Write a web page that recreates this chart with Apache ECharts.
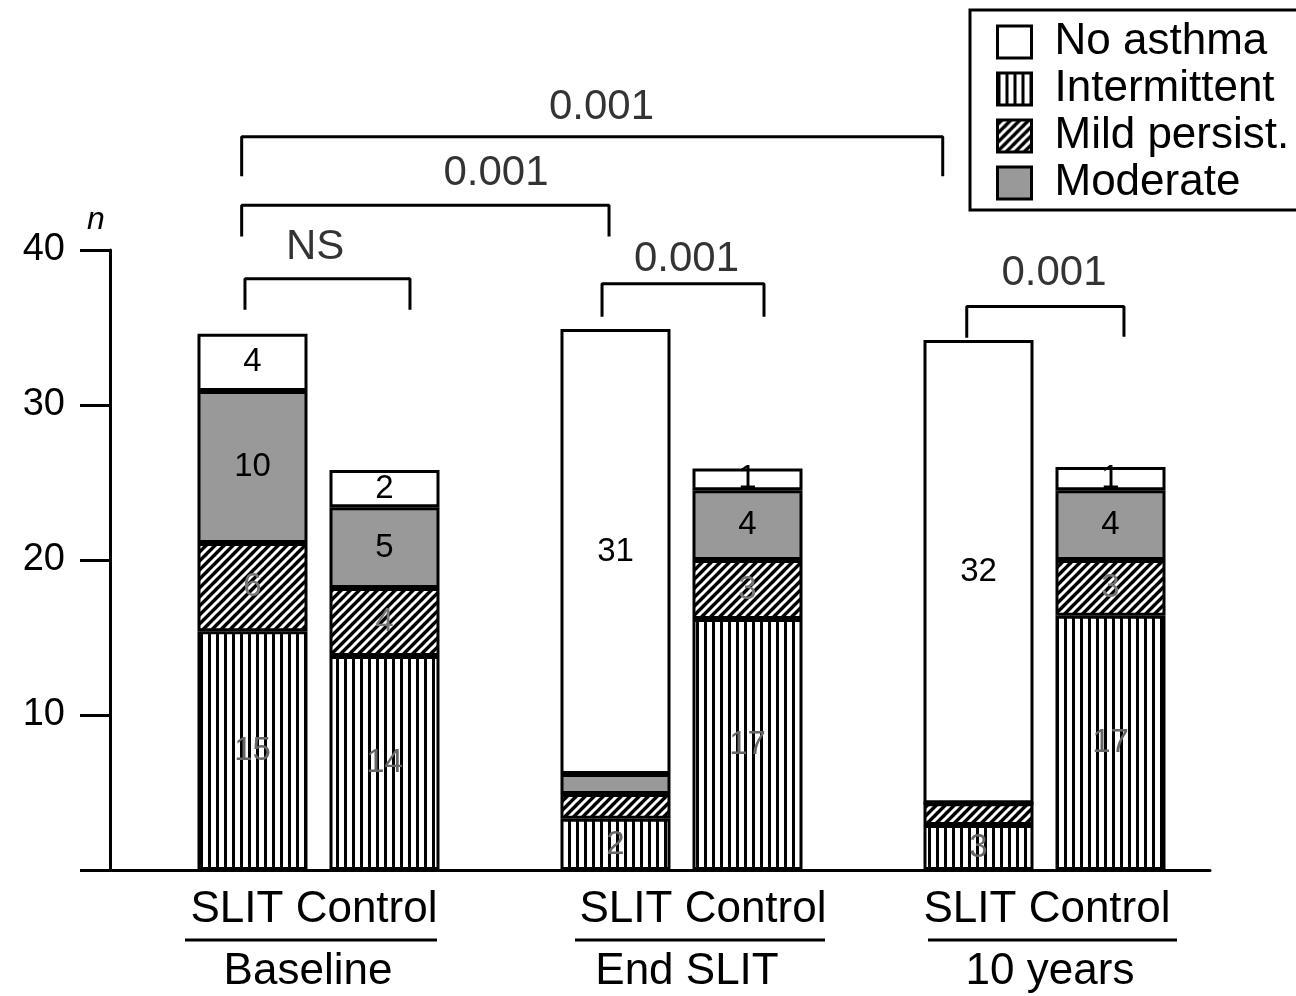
<!DOCTYPE html>
<html><head><meta charset="utf-8">
<script src="https://cdn.jsdelivr.net/npm/echarts@6/dist/echarts.min.js"></script>
<style>html,body{margin:0;padding:0;background:#fff}#c{width:1296px;height:996px}</style>
</head><body><div id="c"></div>
<script>
// ---------- data ----------
const groups = ['Baseline', 'End SLIT', '10 years'];
const arms = ['SLIT', 'Control'];
const legendOrder = ['No asthma', 'Intermittent', 'Mild persist.', 'Moderate'];
// segment heights (n) per bar: Baseline SLIT, Baseline Control, End SLIT, End Control, 10y SLIT, 10y Control
const intermittent = [15.4, 13.8, 3.3, 16.2, 2.9, 16.4];
const mildPersist  = [5.7, 4.4, 1.6, 3.8, 1.4, 3.6];
const moderate     = [9.8, 5.2, 1.3, 4.5, 0, 4.5];
const noAsthma     = [3.7, 2.4, 28.7, 1.4, 29.9, 1.5];
const intermittentLabels = ['15', '14', '2', '17', '3', '17'];
const mildLabels         = ['6', '4', '', '3', '', '3'];
const moderateLabels     = ['10', '5', '', '4', '', '4'];
const noAsthmaLabels     = ['4', '2', '31', '1', '32', '1'];
const pTexts = ['0.001', '0.001', 'NS', '0.001', '0.001'];

// ---------- layout ----------
const FONT = '"Liberation Sans", Arial, Helvetica, sans-serif';
const GROUP_STEP = 2.75;
const BAR_W = 110, AXIS_LEN = 1100;
// wanted visible extent of the x axis (in bar-position units)
const X_MIN = -1.0795, X_MAX = 7.2538;
// ECharts widens a time/value base axis by the bar width; pre-shrink so the final extent is as wanted
const xCenter = (X_MIN + X_MAX) / 2;
const xHalf = (X_MAX - X_MIN) * (1 - BAR_W / AXIS_LEN) / 2;
const T = v => v * 1000;
const barPos = [];
groups.forEach((g, gi) => arms.forEach((a, si) => barPos.push(GROUP_STEP * gi + si)));

// bracket geometry in axis units: x1, x2, bar height h, left leg end, right leg end, text x, text y
const brackets = [
  { x1: -0.082, x2: 5.229, h: 47.31, l: 44.76, r: 44.76, tx: 2.644, ty: 49.2 },
  { x1: -0.082, x2: 2.701, h: 42.89, l: 40.87, r: 40.87, tx: 1.845, ty: 44.94 },
  { x1: -0.057, x2: 1.193, h: 38.15, l: 36.15, r: 36.15, tx: 0.474, ty: 40.16 },
  { x1: 2.648, x2: 3.875, h: 37.83, l: 35.70, r: 35.70, tx: 3.288, ty: 39.38 },
  { x1: 5.411, x2: 6.602, h: 36.36, l: 34.34, r: 34.41, tx: 6.072, ty: 38.48 }
];

// ---------- patterns ----------
function stripes() {
  const c = document.createElement('canvas'); c.width = 8; c.height = 8;
  const g = c.getContext('2d');
  g.fillStyle = '#fff'; g.fillRect(0, 0, 8, 8);
  g.fillStyle = '#000'; g.fillRect(0, 0, 3, 8);
  return c;
}
function hatch() {
  const s = 9;
  const c = document.createElement('canvas'); c.width = s; c.height = s;
  const g = c.getContext('2d');
  g.fillStyle = '#000'; g.fillRect(0, 0, s, s);
  g.strokeStyle = '#fff'; g.lineWidth = 3;
  g.beginPath();
  g.moveTo(-s, s); g.lineTo(s, -s);
  g.moveTo(0, s); g.lineTo(s, 0);
  g.moveTo(0, 2 * s); g.lineTo(2 * s, 0);
  g.stroke();
  return c;
}
const stripePat = { image: stripes(), repeat: 'repeat' };
const hatchPat = { image: hatch(), repeat: 'repeat' };

function barSeries(name, values, labels, fill, labelColor) {
  return {
    name, type: 'bar', stack: 'n', barWidth: BAR_W,
    data: values.map((v, i) => [T(barPos[i]), v]),
    itemStyle: { color: fill, borderColor: '#000', borderWidth: 3 },
    label: {
      show: true, position: 'inside', fontFamily: FONT, fontSize: 33, color: labelColor,
      formatter: p => labels[p.dataIndex]
    },
    emphasis: { disabled: true }, animation: false
  };
}

const series = [
  barSeries('Intermittent', intermittent, intermittentLabels, stripePat, '#666'),
  barSeries('Mild persist.', mildPersist, mildLabels, hatchPat, '#777'),
  barSeries('Moderate', moderate, moderateLabels, '#999999', '#000'),
  barSeries('No asthma', noAsthma, noAsthmaLabels, '#ffffff', '#000')
];
brackets.forEach(b => {
  series.push({
    type: 'line', silent: true, clip: false, symbol: 'none', animation: false, z: 5,
    lineStyle: { color: '#000', width: 3 },
    data: [[T(b.x1), b.l], [T(b.x1), b.h], [T(b.x2), b.h], [T(b.x2), b.r]]
  });
});
series.push({
  type: 'scatter', silent: true, clip: false, symbolSize: 0, animation: false, z: 6,
  data: brackets.map((b, i) => [T(b.tx), b.ty, pTexts[i]]),
  label: { show: true, position: 'inside', fontFamily: FONT, fontSize: 42, color: '#000',
    formatter: p => p.value[2] }
});

const groupTextX = [314, 703, 1047];
const underline = [[185, 437], [575, 825], [928, 1177]];
const groupNameX = [308, 687, 1050];
const graphic = [];
groups.forEach((g, i) => {
  graphic.push({ type: 'text', x: groupTextX[i], y: 910, style: { text: arms.join(' '), font: '44px ' + FONT, fill: '#000', textAlign: 'center', textVerticalAlign: 'middle', align: 'center', verticalAlign: 'middle' } });
  graphic.push({ type: 'line', shape: { x1: underline[i][0], y1: 940, x2: underline[i][1], y2: 940 }, style: { stroke: '#000', lineWidth: 3 } });
  graphic.push({ type: 'text', x: groupNameX[i], y: 972, style: { text: g, font: '44px ' + FONT, fill: '#000', textAlign: 'center', textVerticalAlign: 'middle', align: 'center', verticalAlign: 'middle' } });
});

const chart = echarts.init(document.getElementById('c'), null, { renderer: 'canvas' });
chart.setOption({
  backgroundColor: '#fff',
  animation: false,
  textStyle: { fontFamily: FONT },
  grid: { left: 110, right: 86, top: 250, bottom: 126, containLabel: false },
  xAxis: {
    type: 'time', min: T(xCenter - xHalf), max: T(xCenter + xHalf),
    axisLine: { show: true, lineStyle: { color: '#000', width: 3 } },
    axisTick: { show: false }, axisLabel: { show: false }, splitLine: { show: false }
  },
  yAxis: {
    type: 'value', min: 0, max: 40, interval: 10,
    name: 'n', nameLocation: 'end', nameGap: 14,
    nameTextStyle: { fontFamily: FONT, fontStyle: 'italic', fontSize: 32, color: '#000', padding: [0, 28, 0, 0] },
    axisLine: { show: true, lineStyle: { color: '#000', width: 3 } },
    axisTick: { show: true, inside: false, length: 30, lineStyle: { color: '#000', width: 3 } },
    axisLabel: { fontFamily: FONT, fontSize: 38, color: '#000', margin: 45, formatter: v => v === 0 ? '' : String(v) },
    splitLine: { show: false }
  },
  legend: {
    orient: 'vertical', left: 970, top: 10,
    padding: [10, 40, 5, 26],
    backgroundColor: '#fff', borderColor: '#000', borderWidth: 3, borderRadius: 0,
    itemWidth: 34, itemHeight: 32, itemGap: 3, icon: 'rect',
    itemStyle: { borderColor: '#000', borderWidth: 3 },
    textStyle: { fontFamily: FONT, fontSize: 44, color: '#000', lineHeight: 44, padding: [0, 0, 0, 18] },
    data: legendOrder, selectedMode: false
  },
  series,
  graphic
});
</script></body></html>
